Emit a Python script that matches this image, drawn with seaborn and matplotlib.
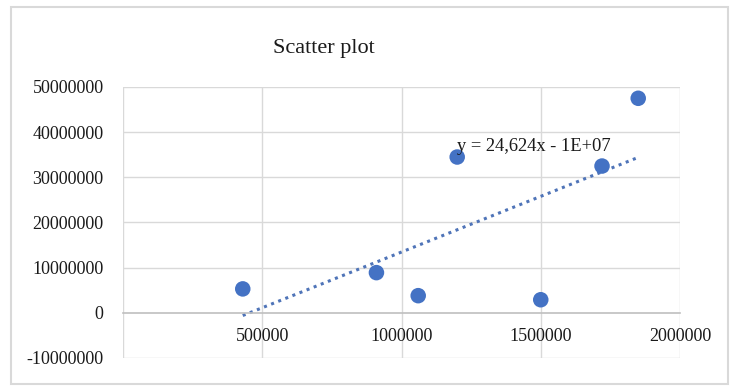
import numpy as np
import pandas as pd
import matplotlib
matplotlib.use("Agg")
import matplotlib.pyplot as plt
import seaborn as sns
from matplotlib.patches import Rectangle

# Data
x_values = [430000, 910000, 1060000, 1500000, 1200000, 1720000, 1850000]
y_values = [5300000, 8900000, 3800000, 2900000, 34500000, 32500000, 47500000]
x_ticks = [500000, 1000000, 1500000, 2000000]
y_ticks = [-10000000, 0, 10000000, 20000000, 30000000, 40000000, 50000000]
title_text = "Scatter plot"
equation_text = "y = 24,624x - 1E+07"

df = pd.DataFrame({"x": x_values, "y": y_values})

sns.set_style("white")
plt.rcParams["font.family"] = ["Liberation Serif", "DejaVu Serif"]

blue = "#4472C4"
grid_c = "#D9D9D9"

fig = plt.figure(figsize=(7.3, 3.86), dpi=100)
ax = fig.add_axes([123/730, 1-358/386, (680-123)/730, (358-87)/386])

# trendline (linear fit)
sns.regplot(data=df, x="x", y="y", ax=ax, scatter=False, ci=None, truncate=True,
            line_kws=dict(color="#4F74B8", linestyle=(0, (1, 1.5)), lw=2.2, zorder=2))
# points
sns.scatterplot(data=df, x="x", y="y", ax=ax, s=125, color=blue, edgecolor="none", zorder=3)

for s in ["top", "right", "left"]:
    ax.spines[s].set_visible(False)
ax.spines["bottom"].set_position(("data", 0))
ax.spines["bottom"].set_color("#BFBFBF")
ax.spines["bottom"].set_linewidth(1.2)

ax.set_xlim(0, 2000000)
ax.set_ylim(-10000000, 50000000)
ax.set_xticks(x_ticks)
ax.set_yticks(y_ticks)
ax.set_xticklabels([str(v) for v in x_ticks])
ax.set_yticklabels([str(v) for v in y_ticks])
ax.set_xlabel("")
ax.set_ylabel("")
ax.tick_params(axis="x", length=0, pad=11, colors="#1a1a1a", labelsize=13)
ax.tick_params(axis="y", length=0, pad=14, colors="#1a1a1a", labelsize=13)

for v in [0] + x_ticks:
    ax.axvline(v, color=grid_c, lw=1, zorder=0)
for v in y_ticks:
    if v != 0:
        ax.axhline(v, color=grid_c, lw=1, zorder=0)

ax.text(1200000, 36900000, equation_text, fontsize=13.3, ha="left", va="center", color="#1a1a1a")

fig.text(324/730, 1-49/386, title_text, fontsize=16, ha="center", va="center", color="#1a1a1a")

fig.patches.append(Rectangle((11/730, 1-384/386), (728-11)/730, (384-7)/386,
                             transform=fig.transFigure, fill=False, edgecolor="#D9D9D9", lw=1.5))

fig.savefig("out.png", dpi=100)
